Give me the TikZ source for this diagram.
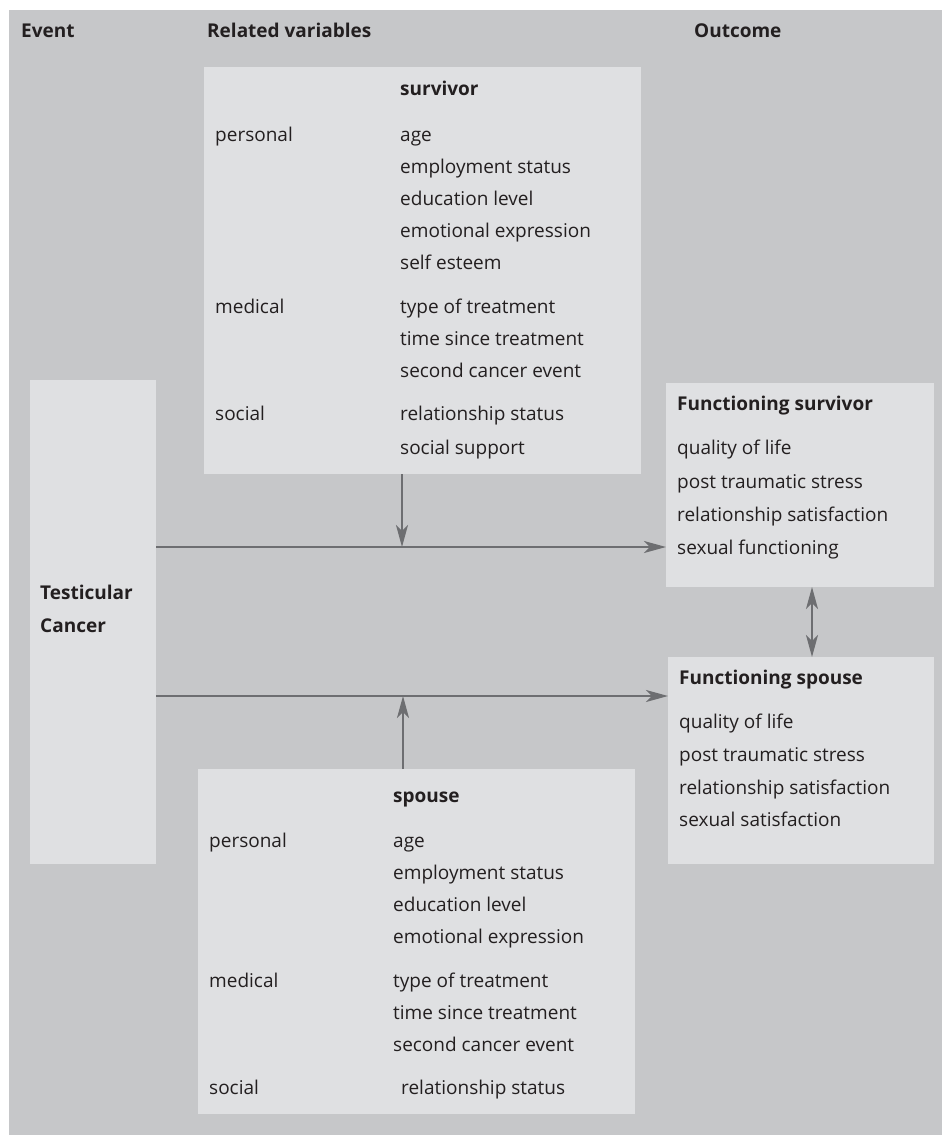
\documentclass[tikz,border=0pt]{standalone}
\usepackage{fontspec}
\setmainfont{Open Sans}
\usetikzlibrary{arrows.meta}
\definecolor{panel}{HTML}{C6C7C9}
\definecolor{boxc}{HTML}{DFE0E2}
\definecolor{ink}{HTML}{231F20}
\definecolor{arr}{HTML}{6D6E71}
\tikzset{
 boxn/.style={fill=boxc, draw=none, anchor=north west, inner sep=0pt, outer sep=0pt},
 txt/.style={anchor=base west, inner sep=0pt, text=ink, font=\fontsize{19}{22}\selectfont},
 btxt/.style={anchor=base west, inner sep=0pt, text=ink, font=\fontsize{19}{22}\selectfont\bfseries},
 tip/.style={Stealth[length=22pt,width=12pt,inset=6pt]},
 conn/.style={draw=arr, line width=1.6pt, -{Stealth[length=22pt,width=12pt,inset=6pt]}},
 dconn/.style={draw=arr, line width=1.6pt, {Stealth[length=22pt,width=12pt,inset=6pt]}-{Stealth[length=22pt,width=12pt,inset=6pt]}},
}
\begin{document}
\begin{tikzpicture}[x=1pt,y=-1pt]
\useasboundingbox (0,0) rectangle (942,1135);
\fill[panel] (9,10) rectangle (942,1135);
% headers
\node[btxt] (hEvent) at (21,37) {Event};
\node[btxt] (hRel) at (207,37) {Related variables};
\node[btxt] (hOut) at (694,37) {Outcome};
% boxes
\node[boxn, minimum width=126pt, minimum height=484pt] (event) at (30,380) {};
\node[boxn, minimum width=437pt, minimum height=407pt] (surv) at (204,67) {};
\node[boxn, minimum width=437pt, minimum height=345pt] (spou) at (198,769) {};
\node[boxn, minimum width=268pt, minimum height=204pt] (fsurv) at (666,383) {};
\node[boxn, minimum width=266pt, minimum height=207pt] (fspou) at (668,657) {};
% event text
\node[btxt] (tc1) at (40,599) {Testicular};
\node[btxt] (tc2) at (40,632) {Cancer};
% survivor box
\node[btxt] (s0) at (400,95) {survivor};
\node[txt] (sp) at (215,141) {personal};
\node[txt] (s1) at (400,141) {age};
\node[txt] (s2) at (400,173) {employment status};
\node[txt] (s3) at (400,205) {education level};
\node[txt] (s4) at (400,237) {emotional expression};
\node[txt] (s5) at (400,269) {self esteem};
\node[txt] (sm) at (215,313) {medical};
\node[txt] (s6) at (400,313) {type of treatment};
\node[txt] (s7) at (400,345) {time since treatment};
\node[txt] (s8) at (400,377) {second cancer event};
\node[txt] (ss) at (215,420) {social};
\node[txt] (s9) at (400,420) {relationship status};
\node[txt] (s10) at (400,454) {social support};
% spouse box
\node[btxt] (p0) at (393,802) {spouse};
\node[txt] (pp) at (209,847) {personal};
\node[txt] (p1) at (393,847) {age};
\node[txt] (p2) at (393,879) {employment status};
\node[txt] (p3) at (393,911) {education level};
\node[txt] (p4) at (393,943) {emotional expression};
\node[txt] (pm) at (209,987) {medical};
\node[txt] (p6) at (393,987) {type of treatment};
\node[txt] (p7) at (393,1019) {time since treatment};
\node[txt] (p8) at (393,1051) {second cancer event};
\node[txt] (ps) at (209,1094) {social};
\node[txt] (p9) at (401,1094) {relationship status};
% functioning survivor
\node[btxt] (f0) at (677,410) {Functioning survivor};
\node[txt] (f1) at (677,454) {quality of life};
\node[txt] (f2) at (677,488) {post traumatic stress};
\node[txt] (f3) at (677,521) {relationship satisfaction};
\node[txt] (f4) at (677,554) {sexual functioning};
% functioning spouse
\node[btxt] (g0) at (679,684) {Functioning spouse};
\node[txt] (g1) at (679,728) {quality of life};
\node[txt] (g2) at (679,761) {post traumatic stress};
\node[txt] (g3) at (679,794) {relationship satisfaction};
\node[txt] (g4) at (679,826) {sexual satisfaction};
% connectors
\coordinate (j1) at (402,547);
\coordinate (j2) at (403,696);
\coordinate (d) at (812,620);
\draw[conn] (event.east |- j1) -- (fsurv.west |- j1);
\draw[conn] (event.east |- j2) -- (fspou.west |- j2);
\draw[conn] (j1 |- surv.south) -- (j1);
\draw[conn] (j2 |- spou.north) -- (j2);
\draw[dconn] (d |- fsurv.south) -- (d |- fspou.north);
\end{tikzpicture}
\end{document}
